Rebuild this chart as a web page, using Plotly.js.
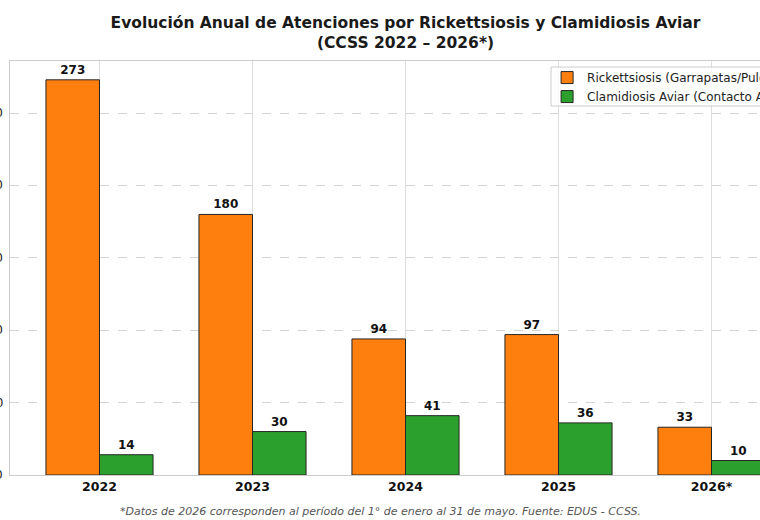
<!DOCTYPE html>
<html>
<head>
<meta charset="utf-8">
<script src="https://cdn.plot.ly/plotly-3.0.1.min.js"></script>
<style>
  html, body { margin: 0; padding: 0; overflow: hidden; background: #ffffff; width: 760px; height: 520px; }
  #chart { position: absolute; left: -40px; top: 0; width: 900px; height: 520px; }
</style>
</head>
<body>
<div id="chart"></div>
<script>
// Atenciones anuales por enfermedad (2026: enero a mayo)
const years = ['2022', '2023', '2024', '2025', '2026*'];
const rickettsiosis = [273, 180, 94, 97, 33];
const clamidiosis = [14, 30, 41, 36, 10];
const seriesNames = ['Rickettsiosis (Garrapatas/Pulgas)', 'Clamidiosis Aviar (Contacto Aves)'];
const seriesColors = ['#ff7f0e', '#2ca02c'];
const yTicks = [0, 50, 100, 150, 200, 250];

const FONT = 'DejaVu Sans, Verdana, sans-serif';

function barTrace(values, name, color) {
  return {
    type: 'bar',
    x: years,
    y: values,
    name: name,
    marker: { color: color, line: { color: '#262626', width: 1 } },
    text: values.map(String),
    textposition: 'outside',
    cliponaxis: false,
    constraintext: 'none',
    textfont: { family: FONT, size: 12, color: '#111111', weight: 'bold' },
    hoverinfo: 'x+y+name'
  };
}

const data = [
  barTrace(rickettsiosis, seriesNames[0], seriesColors[0]),
  barTrace(clamidiosis, seriesNames[1], seriesColors[1])
];

// y tick labels, placed a few px left of the axis line
const yTickLabels = yTicks.map(v => ({
  text: String(v),
  xref: 'paper', x: -0.0063, xanchor: 'right',
  yref: 'y', y: v, yanchor: 'middle',
  showarrow: false,
  font: { family: FONT, size: 12, color: '#222222' }
}));

const layout = {
  width: 900,
  height: 520,
  margin: { l: 50, r: 59, t: 61, b: 45 },
  paper_bgcolor: '#ffffff',
  plot_bgcolor: '#ffffff',
  font: { family: FONT, color: '#222222' },
  barmode: 'group',
  bargap: 0.3,
  bargroupgap: 0,
  showlegend: true,
  title: {
    text: 'Evolución Anual de Atenciones por Rickettsiosis y Clamidiosis Aviar<br>(CCSS 2022 – 2026*)',
    font: { family: FONT, size: 15.5, color: '#1a1a1a', weight: 'bold' },
    xref: 'paper', x: 0.5, xanchor: 'center',
    yref: 'container', y: 0.946, yanchor: 'top'
  },
  xaxis: {
    type: 'category',
    range: [-0.585, 4.585],
    showgrid: true,
    gridcolor: '#dddddd',
    gridwidth: 1,
    showline: true,
    linecolor: '#cccccc',
    linewidth: 1,
    mirror: true,
    ticks: '',
    ticklabelstandoff: 0,
    tickfont: { family: FONT, size: 12.5, color: '#111111', weight: 'bold' },
    zeroline: false,
    fixedrange: true
  },
  yaxis: {
    range: [0, 286],
    tickvals: yTicks,
    showticklabels: false,
    showgrid: true,
    gridcolor: '#d4d4d4',
    griddash: 'dash',
    gridwidth: 1,
    showline: true,
    linecolor: '#cccccc',
    linewidth: 1,
    mirror: true,
    ticks: '',
    zeroline: false,
    fixedrange: true
  },
  legend: {
    x: 0.679, xanchor: 'left',
    y: 0.995, yanchor: 'top',
    bgcolor: 'rgba(0,0,0,0)',
    borderwidth: 0,
    font: { family: FONT, size: 12, color: '#222222' },
    itemwidth: 30,
    tracegroupgap: 0
  },
  shapes: [{
    // legend frame
    type: 'rect', layer: 'above',
    xref: 'paper', yref: 'paper',
    x0: 0.684, x1: 0.992, y0: 0.8913, y1: 0.9855,
    line: { color: '#cccccc', width: 1 },
    fillcolor: 'rgba(255,255,255,0.8)'
  }],
  annotations: yTickLabels.concat([{
    text: '*Datos de 2026 corresponden al período del 1° de enero al 31 de mayo. Fuente: EDUS - CCSS.',
    xref: 'paper', x: 0.469, xanchor: 'center',
    yref: 'paper', y: -0.087, yanchor: 'middle',
    showarrow: false,
    font: { family: FONT, size: 11, color: '#555555', style: 'italic' }
  }])
};

Plotly.newPlot('chart', data, layout, { displayModeBar: false, staticPlot: true });
</script>
</body>
</html>
